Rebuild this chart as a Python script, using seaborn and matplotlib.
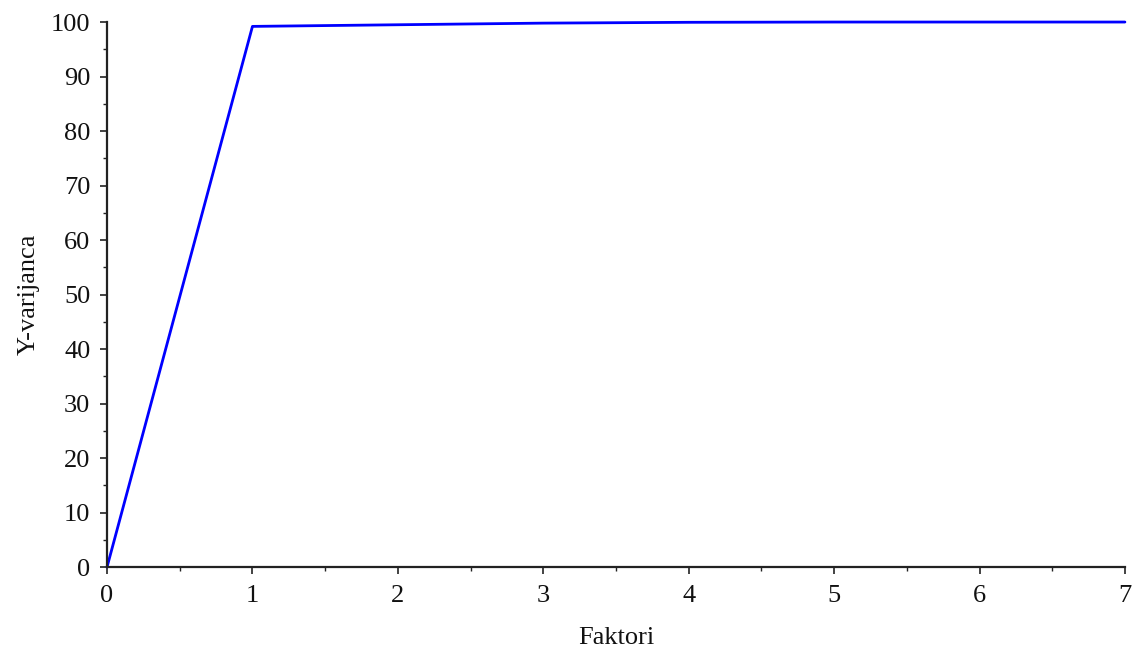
import matplotlib
matplotlib.use('Agg')
import matplotlib.pyplot as plt
from matplotlib.ticker import MultipleLocator
import seaborn as sns
import pandas as pd

# data
faktori = [0, 1, 2, 3, 4, 5, 6, 7]
y_varijanca = [0, 99.2, 99.5, 99.8, 99.95, 100, 100, 100]

sns.set_style('ticks')
plt.rcParams['font.family'] = ['Liberation Serif', 'DejaVu Serif']

df = pd.DataFrame({'Faktori': faktori, 'Y-varijanca': y_varijanca})

fig = plt.figure(figsize=(11.34, 6.48), dpi=100)
ax = fig.add_axes([0.0944, 0.125, 0.8976, 0.841])
sns.lineplot(data=df, x='Faktori', y='Y-varijanca', color='#0000FF', linewidth=2.0, ax=ax)
for ln in ax.lines:
    ln.set_clip_on(False)

ax.set_xlim(0, 7)
ax.set_ylim(0, 100)
ax.xaxis.set_major_locator(MultipleLocator(1))
ax.xaxis.set_minor_locator(MultipleLocator(0.5))
ax.yaxis.set_major_locator(MultipleLocator(10))
ax.yaxis.set_minor_locator(MultipleLocator(5))
ax.tick_params(which='major', length=5, width=1.2, color='#222222', labelsize=19,
               labelcolor='#111111')
ax.tick_params(axis='x', which='major', pad=8)
ax.tick_params(axis='y', which='major', pad=7)
ax.tick_params(which='minor', length=3, width=1.0, color='#222222')
for s in ['left', 'bottom']:
    ax.spines[s].set_linewidth(1.6)
    ax.spines[s].set_color('#222222')
sns.despine(ax=ax)
ax.set_xlabel('Faktori', fontsize=19, labelpad=14, color='#111111')
ax.set_ylabel('Y-varijanca', fontsize=19, labelpad=8, color='#111111')

fig.savefig('out.png', dpi=100)
